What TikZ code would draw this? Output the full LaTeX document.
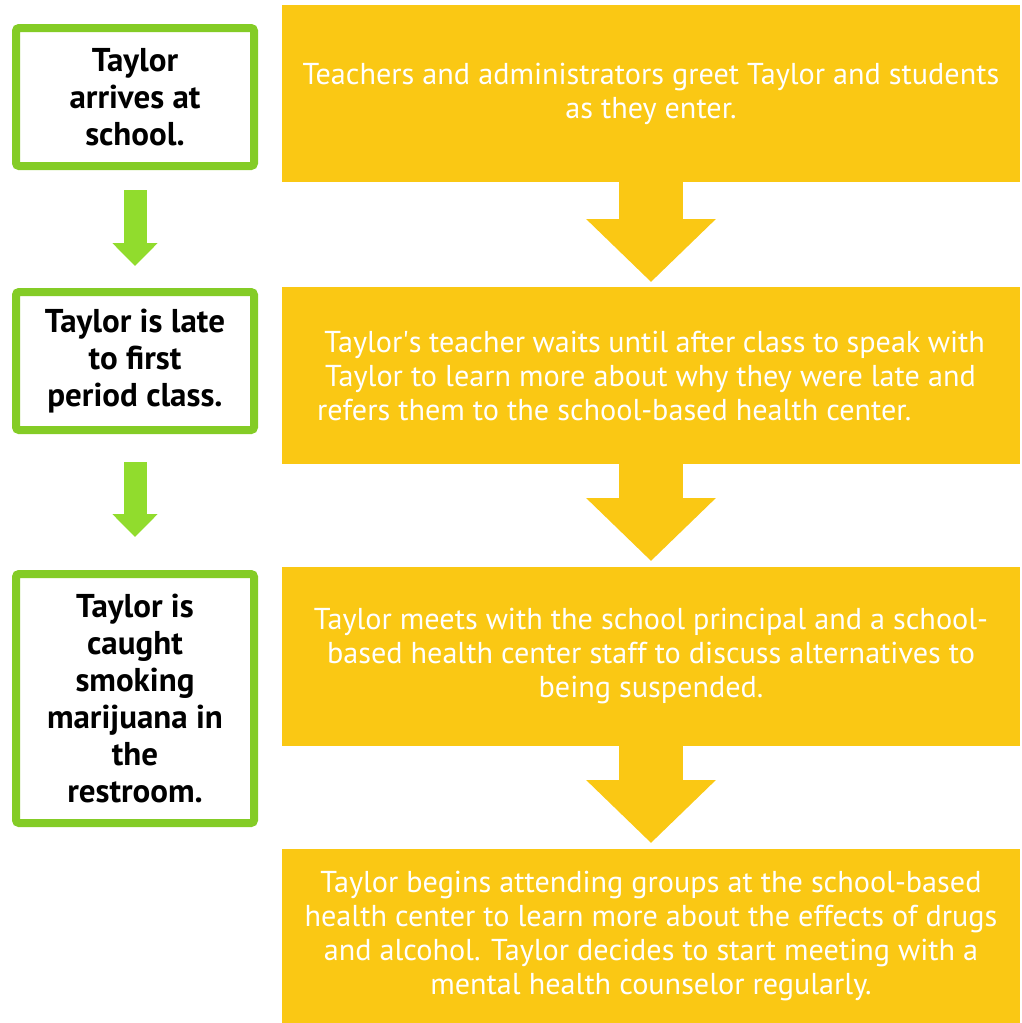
\documentclass[tikz,border=0pt]{standalone}
\usepackage{fontspec}
\setmainfont{PT Sans}
\usetikzlibrary{arrows.meta}
\definecolor{stepgold}{RGB}{250,200,20}
\definecolor{boxgreen}{RGB}{132,204,38}
\definecolor{arrowgreen}{RGB}{145,220,45}
\tikzstyle{event} = [rectangle, rounded corners=3pt, draw=boxgreen, line width=8pt, fill=white, outer sep=0pt, inner sep=0pt, minimum width=238pt, align=center, font=\fontsize{33}{37}\selectfont\bfseries]
\tikzstyle{response} = [rectangle, fill=stepgold, outer sep=0pt, inner sep=0pt, minimum width=738pt, text=white, align=center, font=\fontsize{30.2}{34}\selectfont]
\tikzstyle{garrow} = [arrowgreen, line width=23pt, -{Triangle[width=44pt,length=23pt]}]
\tikzstyle{yarrow} = [stepgold, line width=64pt, -{Triangle[width=126pt,length=63pt]}]

\begin{document}
\begin{tikzpicture}[x=1pt, y=-1pt]
\useasboundingbox (0,0) rectangle (1021,1023);

% Left column: what happens to Taylor
\node (arrive) [event, minimum height=138pt] at (135,97) {Taylor\\arrives at\\school.};
\node (late) [event, minimum height=138pt] at (135,361) {Taylor is late\\to first\\period class.};
\node (caught) [event, minimum height=249pt] at (135,698.5) {Taylor is\\caught\\smoking\\marijuana in\\the\\restroom.};

% Right column: how the school responds
\node (greet) [response, minimum height=177pt] at (651,93.5) {Teachers and administrators greet Taylor and students\\as they enter.};
\node (teacher) [response, minimum height=177pt] at (651,375.5) {\parbox{668pt}{\raggedright\ Taylor\textquotesingle s teacher waits until after class to speak with\\
\ Taylor to learn more about why they were late and\\
refers them to the school-based health center.}};
\node (principal) [response, minimum height=179pt] at (651,656.5) {Taylor meets with the school principal and a school-\\based health center staff to discuss alternatives to\\being suspended.};
\node (groups) [response, minimum height=174pt] at (651,936) {Taylor begins attending groups at the school-based\\health center to learn more about the effects of drugs\\and alcohol. Taylor decides to start meeting with a\\mental health counselor regularly.};

% Arrows in the left column
\draw [garrow, shorten <=24pt, shorten >=26pt] (arrive.south) -- (late.north);
\draw [garrow, shorten <=32pt, shorten >=37pt] (late.south) -- (caught.north);

% Arrows in the right column
\draw [yarrow, shorten >=5pt] (greet.south) -- (teacher.north);
\draw [yarrow, shorten >=6pt] (teacher.south) -- (principal.north);
\draw [yarrow, shorten >=6pt] (principal.south) -- (groups.north);

\end{tikzpicture}
\end{document}
